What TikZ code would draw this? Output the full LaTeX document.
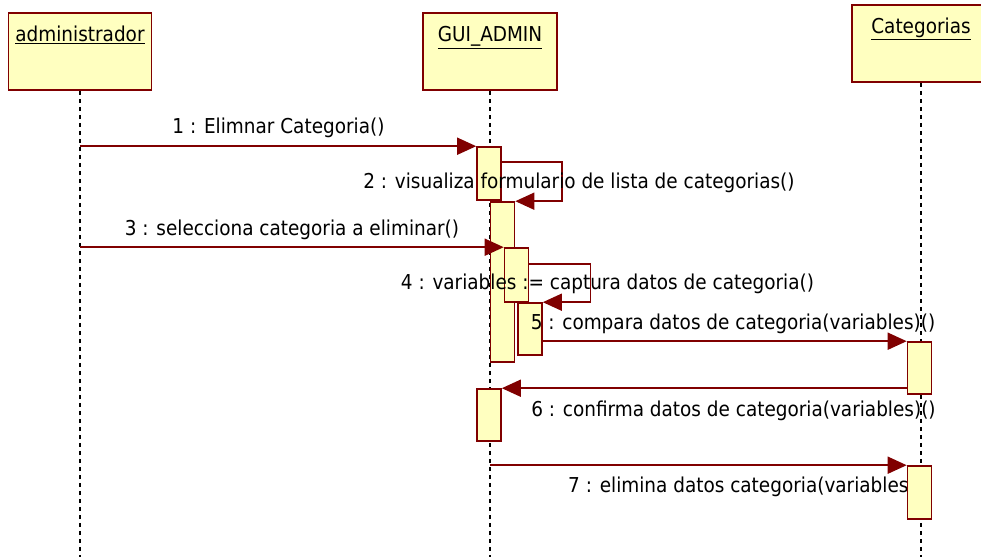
\documentclass[tikz,border=0pt]{standalone}
\usepackage{fontspec}
\setmainfont{DejaVu Sans Condensed}
\usetikzlibrary{arrows.meta}
\definecolor{umlred}{RGB}{128,0,0}
\definecolor{umlfill}{RGB}{255,255,192}
\tikzset{
  headbox/.style={draw=umlred, fill=umlfill, line width=1.6pt, minimum width=143pt, minimum height=77pt, inner sep=0pt},
  headtext/.style={anchor=north, yshift=-14pt, inner sep=0pt, font=\fontsize{20.5}{24}\selectfont},
  actbox/.style={draw=umlred, fill=umlfill, line width=1.6pt, minimum width=24pt, inner sep=0pt},
  lifeline/.style={line width=1.6pt, dash pattern=on 4pt off 4pt},
  msg/.style={draw=umlred, line width=1.6pt, -{Triangle[length=19pt,width=17pt]}},
  msglabel/.style={inner sep=0pt, font=\fontsize{20.5}{24}\selectfont}
}
\begin{document}
\begin{tikzpicture}[x=1pt,y=-1pt]
      \useasboundingbox (0,0) rectangle (981,557);
      \node[headbox, label={[headtext]north:\underline{administrador}}] (admin) at (80,51.5) {};
      \node[headbox, minimum width=134pt, label={[headtext]north:\underline{GUI\_ADMIN}}] (gui) at (490,51.5) {};
      \node[headbox, minimum width=138pt, label={[headtext]north:\underline{Categorias}}] (cat) at (921,43.5) {};
      \coordinate (bottom) at (0,557);
      \draw[lifeline] (admin.south) -- (admin.south |- bottom);
      \draw[lifeline] (gui.south) -- (gui.south |- bottom);
      \draw[lifeline] (cat.south) -- (cat.south |- bottom);
      \node[actbox, minimum height=53pt] (a1) at (489,173.5) {};
      \node[actbox, minimum height=160pt] (a2) at (502.5,282) {};
      \node[actbox, minimum height=54pt] (a3) at (516.5,275) {};
      \node[actbox, minimum height=52pt] (a4) at (530,329) {};
      \node[actbox, minimum height=52pt] (c1) at (919.5,368) {};
      \node[actbox, minimum height=52pt] (g5) at (489,415) {};
      \coordinate (adm1) at (admin |- a1.north);
      \coordinate (adm3) at (admin |- a3.north);
      \draw[msg] (adm1) -- (a1.north west);
      \draw[msg] ([yshift=-16pt]a1.north east) -- ++(60,0) |- (a2.north east);
      \draw[msg] (adm3) -- (a3.north west);
      \draw[msg] ([yshift=-17pt]a3.north east) -- ++(61,0) |- (a4.north east);
      \draw[msg] (a4.east |- c1.north) -- (c1.north west);
      \draw[msg] (c1.west |- g5.north) -- (g5.north east);
      \node[msglabel] (l1) at (278.5,128) {1 : Elimnar Categoria()};
      \node[msglabel] (l2) at (579,183) {2 : visualiza formulario de lista de categorias()};
      \node[msglabel] (l3) at (292,230) {3 : selecciona categoria a eliminar()};
      \node[msglabel] (l4) at (607.5,284) {4 : variables := captura datos de categoria()};
      \node[msglabel] (l5) at (733,324) {5 : compara datos de categoria(variables)()};
      \node[msglabel] (l6) at (733.5,411) {6 : confirma datos de categoria(variables)()};
      \node[msglabel, anchor=west] (l7) at (568,487) {7 : elimina datos categoria(variables)()};
      \node[actbox, minimum height=53pt] (c2) at (919.5,492.5) {};
      \coordinate (gui7) at (gui |- c2.north);
      \draw[msg] (gui7) -- (c2.north west);
    \end{tikzpicture}
\end{document}
